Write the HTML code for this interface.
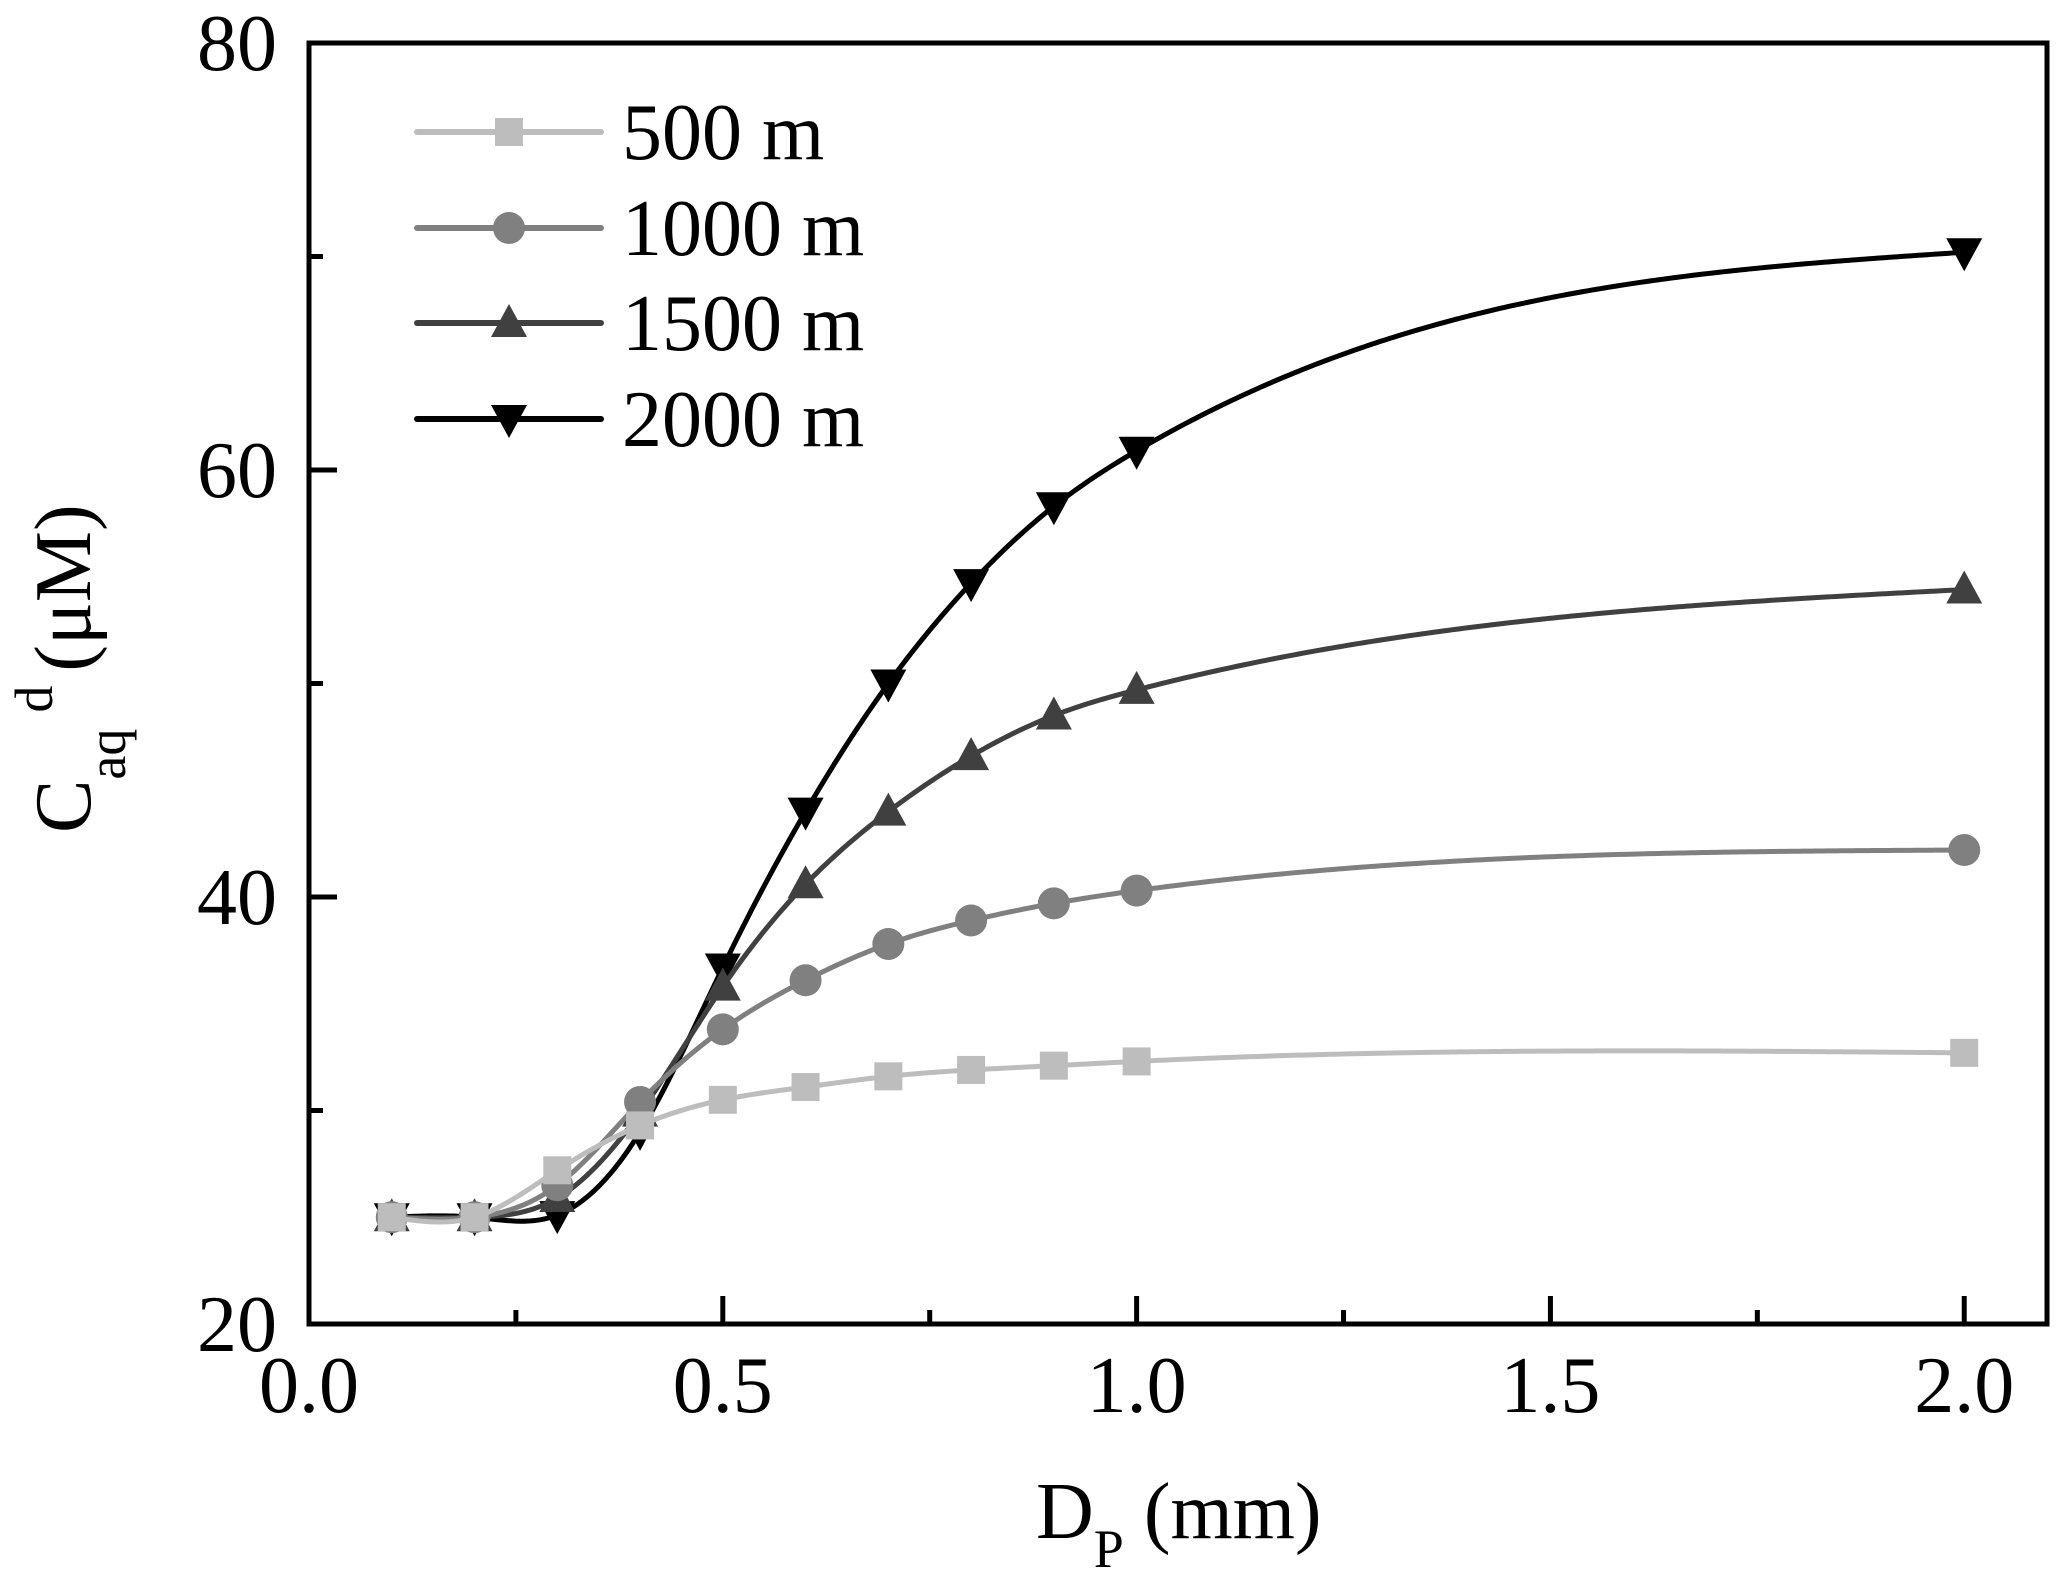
<!DOCTYPE html>
<html><head><meta charset="utf-8"><style>
html,body{margin:0;padding:0;background:#fff;}
svg{display:block;font-family:"Liberation Serif",serif;}
</style></head><body>
<svg id="chart" width="2067" height="1585" viewBox="0 0 2067 1585" xmlns="http://www.w3.org/2000/svg">
<rect width="2067" height="1585" fill="#fff"/>
<g id="plot"></g>
<g id="axes"></g>
<g id="legend"></g>
<text x="1036" y="1538" font-size="80">D<tspan font-size="54" dy="29">P</tspan><tspan dy="-29"> (mm)</tspan></text>
<text transform="translate(90,833) rotate(-90)" font-size="80">C<tspan font-size="54" dy="35">aq</tspan><tspan font-size="54" dy="-73" dx="16">d</tspan><tspan dy="38" dx="14">(μM)</tspan></text>
</svg>
<script>
const xValues = [0.1,0.2,0.3,0.4,0.5,0.6,0.7,0.8,0.9,1.0,2.0];
const series500 = [25,25,27.2,29.3,30.5,31.1,31.6,31.9,32.1,32.3,32.7];
const series1000 = [25,25,26.5,30.4,33.8,36.1,37.8,38.9,39.7,40.3,42.2];
const series1500 = [25,25,25.9,29.9,35.8,40.6,44,46.6,48.5,49.7,54.4];
const series2000 = [25,25,25.1,29,36.7,44,50,54.7,58.3,60.9,70.2];
const seriesNames = ["500 m","1000 m","1500 m","2000 m"];
const xTickLabels = ["0.0","0.5","1.0","1.5","2.0"];
const yTickLabels = ["20","40","60","80"];

const NS="http://www.w3.org/2000/svg";
const X0=309,X1=2047,Y0=1324,Y1=43;
const xMin=0,xMax=2.1,yMin=20,yMax=80;
const sx=v=>X0+(v-xMin)/(xMax-xMin)*(X1-X0);
const sy=v=>Y0-(v-yMin)/(yMax-yMin)*(Y0-Y1);
function mk(tag,attrs,parent){const e=document.createElementNS(NS,tag);for(const k in attrs)e.setAttribute(k,attrs[k]);parent.appendChild(e);return e;}
const plot=document.getElementById('plot'),axes=document.getElementById('axes'),legend=document.getElementById('legend');

const frame=mk('rect',{x:X0,y:Y1,width:X1-X0,height:Y0-Y1,fill:'none',stroke:'#000','stroke-width':5},axes);


for(let i=0;i<=8;i++){const v=i*0.25;const x=sx(v);const major=i%2===0;
 const t=mk('line',{x1:x,x2:x,y1:Y0,y2:Y0-(major?28:14),stroke:'#000','stroke-width':5},axes);
 
 
 if(major){const l=mk('text',{x:x,y:1412,'font-size':80,'text-anchor':'middle'},axes);l.textContent=xTickLabels[i/2];
 
 }}
for(let i=0;i<=6;i++){const v=20+i*10;const y=sy(v);const major=i%2===0;
 const t=mk('line',{x1:X0,x2:X0+(major?28:14),y1:y,y2:y,stroke:'#000','stroke-width':5},axes);
 
 
 if(major){const l=mk('text',{x:277,y:y+27,'font-size':80,'text-anchor':'end'},axes);l.textContent=yTickLabels[i/2];
 
 }}

// natural cubic spline in data space, sampled densely
function splinePath(xs,ys){const n=xs.length;const h=[],al=[0];
 for(let i=0;i<n-1;i++)h.push(xs[i+1]-xs[i]);
 for(let i=1;i<n-1;i++)al.push(3/h[i]*(ys[i+1]-ys[i])-3/h[i-1]*(ys[i]-ys[i-1]));
 const l=[1],mu=[0],z=[0];
 for(let i=1;i<n-1;i++){l[i]=2*(xs[i+1]-xs[i-1])-h[i-1]*mu[i-1];mu[i]=h[i]/l[i];z[i]=(al[i]-h[i-1]*z[i-1])/l[i];}
 const c=new Array(n).fill(0),b=[],d=[];
 for(let j=n-2;j>=0;j--){c[j]=z[j]-mu[j]*c[j+1];b[j]=(ys[j+1]-ys[j])/h[j]-h[j]*(c[j+1]+2*c[j])/3;d[j]=(c[j+1]-c[j])/(3*h[j]);}
 let p='';
 for(let j=0;j<n-1;j++){const steps=Math.max(8,Math.round(h[j]*200));
  for(let k=(j===0?0:1);k<=steps;k++){const t=h[j]*k/steps;const y=ys[j]+b[j]*t+c[j]*t*t+d[j]*t*t*t;
   p+=(p?' L':'M')+sx(xs[j]+t).toFixed(2)+','+sy(y).toFixed(2);}}
 return p;}
function marker(kind,x,y,color,parent){
 let e;
 if(kind==='square')e=mk('rect',{x:x-14,y:y-14,width:28,height:28,fill:color},parent);
 else if(kind==='circle')e=mk('circle',{cx:x,cy:y,r:16,fill:color},parent);
 else if(kind==='up')e=mk('polygon',{points:`${x-18},${y+14} ${x+18},${y+14} ${x},${y-19}`,fill:color},parent);
 else e=mk('polygon',{points:`${x-18},${y-14} ${x+18},${y-14} ${x},${y+19}`,fill:color},parent);
 return e;}
const all=[series500,series1000,series1500,series2000];
const colors=["#bdbdbd","#808080","#404040","#000000"];
const kinds=["square","circle","up","down"];
const slugs=["500m","1000m","1500m","2000m"];
for(let s=3;s>=0;s--){
 const g=mk('g',{},plot);
 
 
 const path=mk('path',{d:splinePath(xValues,all[s]),fill:'none',stroke:colors[s],'stroke-width':5,'stroke-linejoin':'round'},g);
 
 
 for(let i=0;i<xValues.length;i++){const mkr=marker(kinds[s],sx(xValues[i]),sy(all[s][i]),colors[s],g);
 
 }
}
const rows=[132,228,323,419];
for(let s=0;s<4;s++){
 const g=mk('g',{},legend);
 
 
 mk('line',{x1:417,x2:601,y1:rows[s],y2:rows[s],stroke:colors[s],'stroke-width':6,'stroke-linecap':'round'},g);
 marker(kinds[s],509,rows[s],colors[s],g);
 const t=mk('text',{x:622,y:rows[s]+27,'font-size':80},g);t.textContent=seriesNames[s];
}
</script>
</body></html>
